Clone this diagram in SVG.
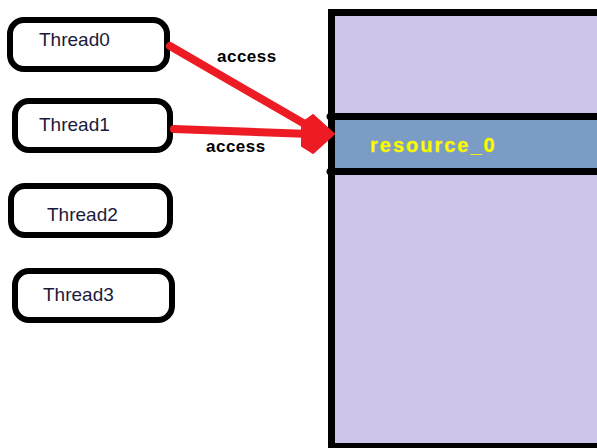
<svg xmlns="http://www.w3.org/2000/svg" width="597" height="448" viewBox="0 0 597 448">
<style>
.thr{fill:#fff;stroke:#000;stroke-width:6}
.tl{font-family:"Liberation Sans",Arial,sans-serif;font-size:19px;fill:#1a1a3a}
.acc{font-family:"Liberation Sans",Arial,sans-serif;font-size:17px;font-weight:bold;fill:#000;letter-spacing:0.5px}
.shaft{stroke:#ED1C24;stroke-width:8;stroke-linecap:round;fill:none}
.sep{stroke:#000;stroke-width:7;stroke-linecap:round}
</style>
<rect width="597" height="448" fill="#fff"/>
<g id="memory">
<rect x="331.5" y="12.5" width="272" height="434" fill="#CDC5E9" stroke="#000" stroke-width="7"/>
</g>
<g id="resource_0">
<rect x="335" y="120" width="265" height="48" fill="#7B9CC4"/>
<line class="sep" x1="330" y1="116.5" x2="600" y2="116.5"/>
<line class="sep" x1="330" y1="171.5" x2="600" y2="171.5"/>
<text x="370" y="152" font-family="'Liberation Sans',Arial,sans-serif" font-size="20" font-weight="bold" letter-spacing="2" fill="#FFFF00" stroke="#E8E800" stroke-width="0.4">resource_0</text>
</g>
<g id="thread0">
<rect class="thr" x="10" y="20" width="157" height="49" rx="14"/>
<text class="tl" x="39" y="46">Thread0</text>
</g>
<g id="thread1">
<rect class="thr" x="15" y="101" width="155" height="49" rx="14"/>
<text class="tl" x="39" y="131">Thread1</text>
</g>
<g id="thread2">
<rect class="thr" x="11" y="186" width="159" height="49" rx="14"/>
<text class="tl" x="47" y="221">Thread2</text>
</g>
<g id="thread3">
<rect class="thr" x="15" y="271" width="157" height="49" rx="14"/>
<text class="tl" x="43" y="301">Thread3</text>
</g>
<g id="connectors">
<line class="shaft" x1="170" y1="46" x2="310" y2="127"/>
<line class="shaft" x1="174" y1="129" x2="310" y2="134"/>
<polygon points="334,134 313,115 302,123 302,146 313,153" fill="#ED1C24" stroke="#ED1C24" stroke-width="2" stroke-linejoin="round"/>
<text class="acc" x="217" y="62">access</text>
<text class="acc" x="206" y="152">access</text>
</g>
</svg>
